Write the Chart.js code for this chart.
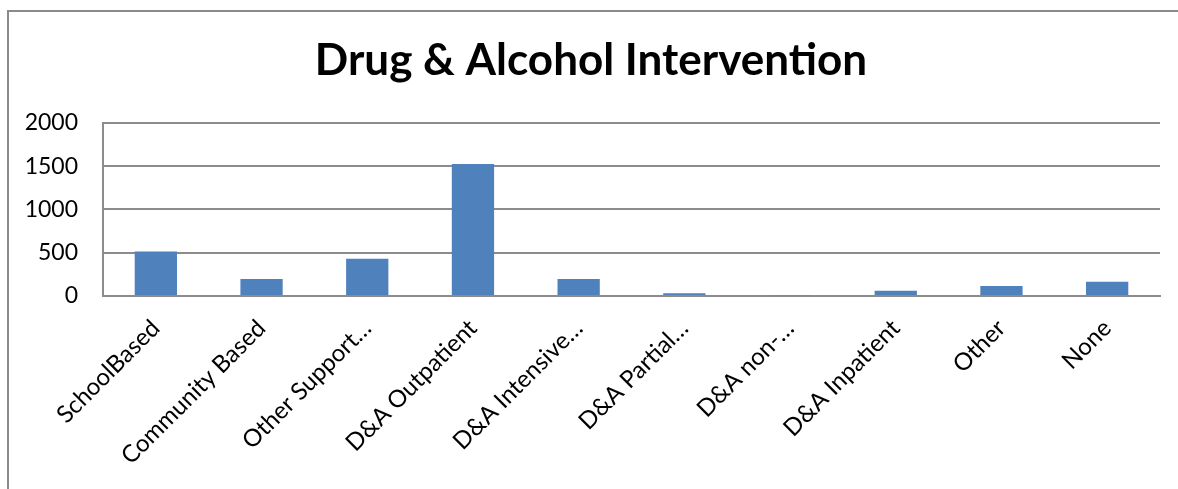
<!DOCTYPE html>
<html>
<head>
<meta charset="utf-8">
<script src="https://cdn.jsdelivr.net/npm/chart.js@4"></script>
<style>
  body { margin: 0; background: #fff; overflow: hidden; }
  #wrap { position: relative; width: 1178px; height: 489px; }
  #frame {
    position: absolute; left: 7px; top: 10px; width: 1300px; height: 600px;
    border-left: 2px solid #8a8a8a; border-top: 2px solid #8a8a8a;
  }
  canvas { position: absolute; left: 0; top: 0; }
</style>
</head>
<body>
<div id="wrap">
  <div id="frame"></div>
  <canvas id="barra" width="1178" height="489"></canvas>
</div>
<script>
const categorias = ['SchoolBased', 'Community Based', 'Other Support…', 'D&A Outpatient', 'D&A Intensive…',
  'D&A Partial…', 'D&A non-…', 'D&A Inpatient', 'Other', 'None'];
const cantidades = [513, 195, 430, 1525, 197, 31, 8, 60, 116, 164];
const yTicks = [0, 500, 1000, 1500, 2000];

const fuente = 'Lato, "Open Sans", sans-serif';

new Chart(document.getElementById('barra'), {
  type: 'bar',
  data: {
    labels: categorias,
    datasets: [{
      label: 'Cantidad',
      data: cantidades,
      backgroundColor: '#4f81bd',
      borderWidth: 0,
      barPercentage: 0.4,
      categoryPercentage: 1
    }]
  },
  options: {
    responsive: false,
    animation: false,
    layout: { padding: { left: 22, right: 18, top: 0, bottom: 0 } },
    plugins: {
      legend: { display: false },
      tooltip: { enabled: false },
      title: {
        display: true,
        text: 'Drug & Alcohol Intervention',
        color: '#000',
        font: { family: fuente, size: 44, weight: 'bold', lineHeight: 1.2 },
        padding: { top: 34, bottom: 36 }
      }
    },
    scales: {
      x: {
        grid: { display: false },
        border: { display: true, color: '#8c8c8c', width: 2 },
        ticks: {
          color: '#000',
          font: { family: fuente, size: 24 },
          minRotation: 45,
          maxRotation: 45,
          autoSkip: false,
          padding: 10
        },
        afterFit: (scale) => { scale.height = 193; }
      },
      y: {
        min: 0,
        max: 2000,
        afterBuildTicks: (scale) => { scale.ticks = yTicks.map(v => ({ value: v })); },
        grid: { color: '#8c8c8c', lineWidth: 2, drawTicks: false },
        border: { display: true, color: '#8c8c8c', width: 2 },
        ticks: {
          color: '#000',
          font: { family: fuente, size: 23 },
          padding: 25,
          callback: (v) => String(v)
        },
        afterFit: (scale) => { scale.width = 81; }
      }
    }
  }
});
</script>
</body>
</html>
